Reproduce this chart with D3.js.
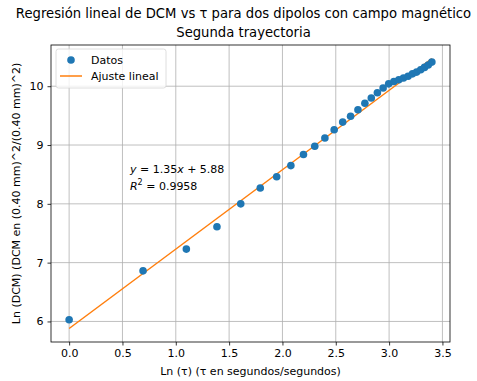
<!DOCTYPE html>
<html>
<head>
<meta charset="utf-8">
<script src="https://cdn.jsdelivr.net/npm/d3@7"></script>
<style>
  body { margin: 0; background: #fff; }
  text { font-family: "DejaVu Sans", sans-serif; fill: #000; }
</style>
</head>
<body>
<script>
// Data
const lnTau = [0, 0.693, 1.099, 1.386, 1.609, 1.792, 1.946, 2.079, 2.197, 2.303,
  2.398, 2.485, 2.565, 2.639, 2.708, 2.773, 2.833, 2.890, 2.944, 2.996,
  3.045, 3.091, 3.135, 3.178, 3.219, 3.258, 3.296, 3.332, 3.367, 3.401];
const lnDCM = [6.03, 6.86, 7.23, 7.61, 8.00, 8.27, 8.46, 8.65, 8.84, 8.98,
  9.12, 9.26, 9.39, 9.49, 9.60, 9.71, 9.80, 9.89, 9.97, 10.04,
  10.08, 10.11, 10.14, 10.17, 10.21, 10.24, 10.28, 10.32, 10.36, 10.41];
const fitSlope = 1.35;
const fitIntercept = 5.88;
const xTicks = [0.0, 0.5, 1.0, 1.5, 2.0, 2.5, 3.0, 3.5];
const yTicks = [6, 7, 8, 9, 10];
const titleLines = ['Regresión lineal de DCM vs τ para dos dipolos con campo magnético', 'Segunda trayectoria'];
const legendLabels = ['Datos', 'Ajuste lineal'];

const width = 477, height = 381;
const margin = {top: 45, right: 27, bottom: 39, left: 51};
const blue = '#1f77b4', orange = '#ff7f0e';
const fs = 11;

const svg = d3.select('body').append('svg')
	.attr('width', width)
	.attr('height', height);

// Scales (matplotlib style 5% margins)
let fitLine = d3.extent(lnTau).map(x => ({x: x, y: fitSlope * x + fitIntercept}));
let xExt = d3.extent(lnTau);
let yAll = lnDCM.concat(fitLine.map(d => d.y));
let yExt = d3.extent(yAll);
let xPad = (xExt[1] - xExt[0]) * 0.05;
let yPad = (yExt[1] - yExt[0]) * 0.05;

let x = d3.scaleLinear()
	.domain([xExt[0] - xPad, xExt[1] + xPad])
	.range([margin.left, width - margin.right]);

let y = d3.scaleLinear()
	.domain([yExt[0] - yPad, yExt[1] + yPad])
	.range([height - margin.bottom, margin.top]);

// Grid
let grid = svg.append('g');
grid.selectAll('.gx').data(xTicks)
	.enter().append('line')
	.attr('x1', d => x(d)).attr('x2', d => x(d))
	.attr('y1', margin.top).attr('y2', height - margin.bottom)
	.attr('stroke', '#b0b0b0').attr('stroke-width', 0.8);
grid.selectAll('.gy').data(yTicks)
	.enter().append('line')
	.attr('x1', margin.left).attr('x2', width - margin.right)
	.attr('y1', d => y(d)).attr('y2', d => y(d))
	.attr('stroke', '#b0b0b0').attr('stroke-width', 0.8);

// Axes
let xAxis = svg.append('g')
	.attr('transform', `translate(0,${height - margin.bottom})`)
	.call(d3.axisBottom(x).tickValues(xTicks).tickFormat(d3.format('.1f')).tickSizeOuter(0).tickSize(3.5).tickPadding(4));
let yAxis = svg.append('g')
	.attr('transform', `translate(${margin.left},0)`)
	.call(d3.axisLeft(y).tickValues(yTicks).tickFormat(d3.format('d')).tickSizeOuter(0).tickSize(3.5).tickPadding(4));
[xAxis, yAxis].forEach(g => {
	g.select('.domain').remove();
	g.selectAll('text').attr('font-size', fs).attr('font-family', '"DejaVu Sans", sans-serif').attr('fill', '#000');
	g.selectAll('line').attr('stroke', '#000').attr('stroke-width', 0.8);
});

// Fit line
svg.append('path')
	.datum(fitLine)
	.attr('d', d3.line().x(d => x(d.x)).y(d => y(d.y)))
	.attr('fill', 'none')
	.attr('stroke', orange)
	.attr('stroke-width', 1.5);

// Points
svg.selectAll('.dot').data(lnTau)
	.enter().append('circle')
	.attr('class', 'dot')
	.attr('cx', d => x(d))
	.attr('cy', (d, i) => y(lnDCM[i]))
	.attr('r', 3.8)
	.attr('fill', blue);

// Frame
svg.append('rect')
	.attr('x', margin.left).attr('y', margin.top)
	.attr('width', width - margin.left - margin.right)
	.attr('height', height - margin.top - margin.bottom)
	.attr('fill', 'none').attr('stroke', '#000').attr('stroke-width', 0.8);

// Annotation
let ann = svg.append('text')
	.attr('x', x(0.57)).attr('y', y(8.53))
	.attr('font-size', fs);
ann.append('tspan').attr('font-style', 'italic').text('y');
ann.append('tspan').text(' = 1.35');
ann.append('tspan').attr('font-style', 'italic').text('x');
ann.append('tspan').text(' + 5.88');
let ann2 = svg.append('text')
	.attr('x', x(0.57)).attr('y', y(8.53) + 17)
	.attr('font-size', fs);
ann2.append('tspan').attr('font-style', 'italic').text('R');
ann2.append('tspan').attr('font-size', 8).attr('dy', -4.5).text('2');
ann2.append('tspan').attr('dy', 4.5).text(' = 0.9958');

// Titles
svg.selectAll('.title').data(titleLines)
	.enter().append('text')
	.attr('x', (margin.left + width - margin.right) / 2 - 7)
	.attr('y', (d, i) => 18 + i * 19)
	.attr('text-anchor', 'middle')
	.attr('font-size', 13.2)
	.text(d => d);

svg.append('text')
	.attr('x', (margin.left + width - margin.right) / 2)
	.attr('y', height - 6)
	.attr('text-anchor', 'middle')
	.attr('font-size', fs)
	.text('Ln (τ) (τ en segundos/segundos)');

svg.append('text')
	.attr('transform', `translate(20,${(margin.top + height - margin.bottom) / 2}) rotate(-90)`)
	.attr('text-anchor', 'middle')
	.attr('font-size', fs)
	.text('Ln (DCM) (DCM en (0.40 mm)^2/(0.40 mm)^2)');

// Legend
let legend = svg.append('g')
	.attr('transform', `translate(${margin.left + 5},${margin.top + 4})`);
legend.append('rect')
	.attr('width', 110).attr('height', 39)
	.attr('rx', 2.5)
	.attr('fill', '#fff').attr('fill-opacity', 0.8)
	.attr('stroke', '#d5d5d5').attr('stroke-width', 0.8);
legend.append('circle')
	.attr('cx', 15).attr('cy', 11).attr('r', 3.8).attr('fill', blue);
legend.append('line')
	.attr('x1', 4).attr('x2', 26).attr('y1', 27).attr('y2', 27)
	.attr('stroke', orange).attr('stroke-width', 1.5);
legend.selectAll('.lt').data(legendLabels)
	.enter().append('text')
	.attr('x', 35)
	.attr('y', (d, i) => 15 + i * 16)
	.attr('font-size', fs)
	.text(d => d);
</script>
</body>
</html>
